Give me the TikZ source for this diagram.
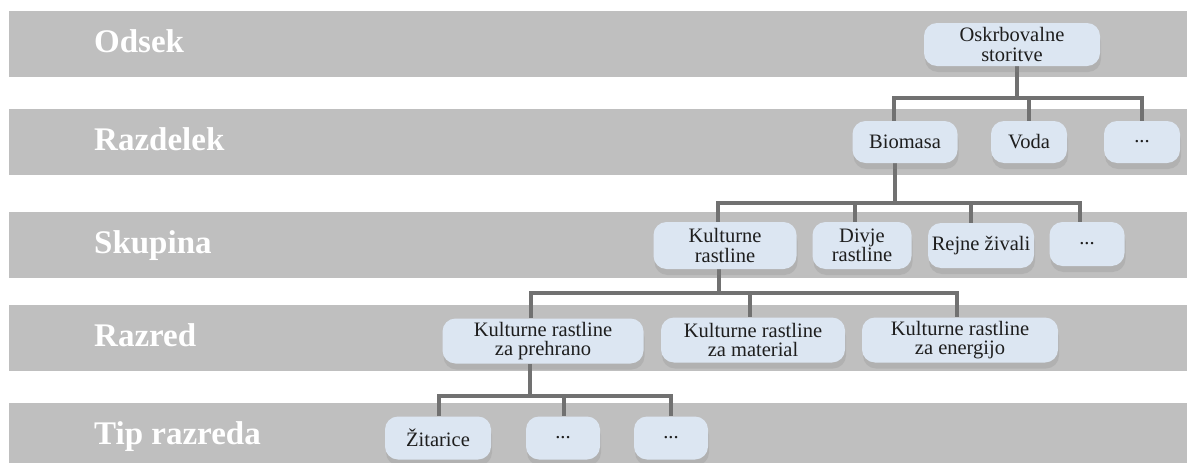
\documentclass[tikz,border=0pt]{standalone}
\usepackage{fontspec}
\usetikzlibrary{shadows,backgrounds,positioning}

\newfontfamily\boxfont{Liberation Serif}

\definecolor{bandgray}{HTML}{BFBFBF}
\definecolor{boxblue}{HTML}{DCE6F2}
\definecolor{linkgray}{HTML}{717171}
\definecolor{txtdark}{HTML}{1E1E1E}

\tikzset{
  band/.style={fill=bandgray},
  level/.style={anchor=base west, text=white, inner sep=0pt,
    font=\boxfont\fontsize{33}{35}\selectfont\bfseries},
  box/.style={rounded corners=13pt, fill=boxblue, align=center, inner sep=2pt,
    text=txtdark, font=\boxfont\fontsize{20.5}{19.5}\selectfont,
    drop shadow={shadow xshift=1pt, shadow yshift=-6pt, opacity=0.22}},
  link/.style={draw=linkgray, line width=4pt},
}

\begin{document}
\begin{tikzpicture}[x=1pt, y=-1pt]
        \useasboundingbox (0,0) rectangle (1187,463);

        % tree boxes
        \node[box, minimum width=176pt, minimum height=43pt] (os) at (1012,44.5) {Oskrbovalne\\storitve};

        \node[box, minimum width=105pt, minimum height=42pt] (bio) at (905,142) {Biomasa};
        \node[box, minimum width=76pt, minimum height=42pt] (voda) at (1029,142) {Voda};
        \node[box, minimum width=76pt, minimum height=42pt] (dotsb) at (1142,142) {...};

        \node[box, minimum width=143pt, minimum height=47pt] (kult) at (725,245.5) {Kulturne\\rastline};
        \node[box, minimum width=99pt, minimum height=47pt] (divje) at (862,245.5) {Divje\\rastline};
        \node[box, minimum width=106pt, minimum height=45pt] (rejne) at (981,245.5) {Rejne živali};
        \node[box, minimum width=75pt, minimum height=44pt] (dotsc) at (1087,244) {...};

        \node[box, minimum width=201pt, minimum height=45pt] (hrana) at (543,341) {Kulturne rastline\\za prehrano};
        \node[box, minimum width=184pt, minimum height=45pt] (mat) at (753,340) {Kulturne rastline\\za material};
        \node[box, minimum width=196pt, minimum height=45pt] (ener) at (960,340) {Kulturne rastline\\za energijo};

        \node[box, minimum width=106pt, minimum height=43pt] (zit) at (438,438) {Žitarice};
        \node[box, minimum width=74pt, minimum height=43pt] (dotsd) at (563,438) {...};
        \node[box, minimum width=74pt, minimum height=43pt] (dotse) at (671,438) {...};

        \begin{scope}[on background layer]
                % level bands
                \foreach \t/\lab in {11/Odsek, 109/Razdelek, 212/Skupina, 305/Razred, 403/{Tip razreda}}
                        \fill[band] (9,\t) rectangle (1187,\t+66) node[level] (lab\t) at (94,\t+41) {\lab};

                % junctions
                \coordinate (ja) at (1017,98);
                \coordinate (jb) at (895,203);
                \coordinate (jc) at (719,293);
                \coordinate (jd) at (530,396);

                \draw[link] ([xshift=5pt]os.south) -- (ja);
                \draw[link] ([xshift=-11pt]bio.north) |- (ja) -| (voda.north);
                \draw[link] (ja) -| (dotsb.north);

                \draw[link] ([xshift=-10pt]bio.south) -- (jb);
                \draw[link] ([xshift=-7pt]kult.north) |- (jb) -| ([xshift=-10pt]rejne.north);
                \draw[link] ([xshift=-7pt]divje.north) -- ([xshift=-7pt]divje.north |- jb);
                \draw[link] (jb) -| ([xshift=-7pt]dotsc.north);

                \draw[link] ([xshift=-6pt]kult.south) -- (jc);
                \draw[link] ([xshift=-12pt]hrana.north) |- (jc) -| ([xshift=-3pt]mat.north);
                \draw[link] (jc) -| ([xshift=-3pt]ener.north);

                \draw[link] ([xshift=-13pt]hrana.south) -- (jd);
                \draw[link] ([xshift=1pt]zit.north) |- (jd) -| ([xshift=1pt]dotsd.north);
                \draw[link] (jd) -| (dotse.north);
        \end{scope}
\end{tikzpicture}
\end{document}
